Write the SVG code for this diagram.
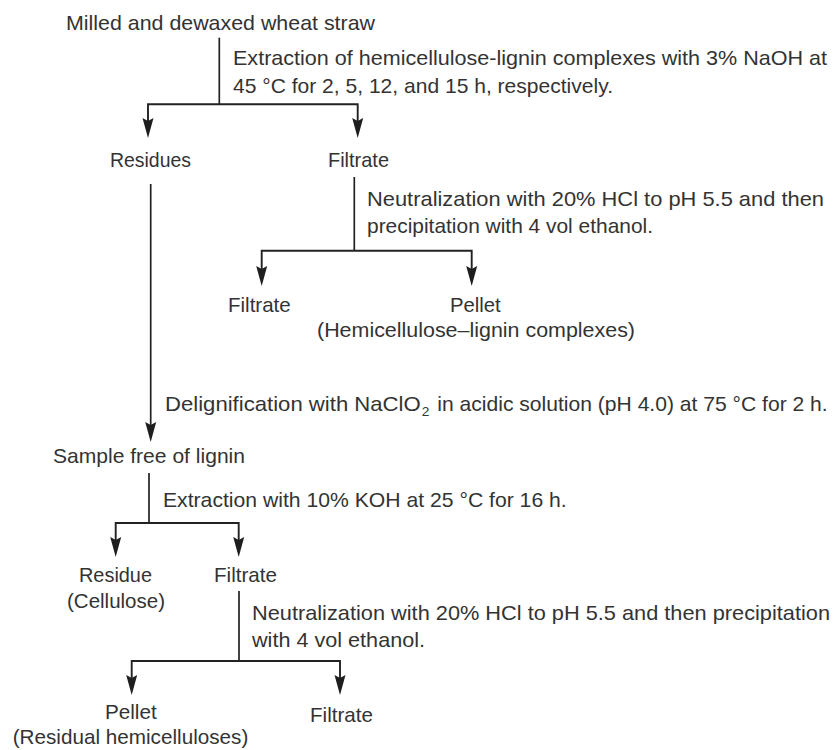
<svg xmlns="http://www.w3.org/2000/svg" width="835" height="750" viewBox="0 0 835 750">
  <style>
    text { font-family: "Liberation Sans", Arial, sans-serif; font-size: 21px; fill: #333333; }
    text.sub { font-size: 13px; }
    .ln { fill: none; stroke: #222; stroke-width: 1.7; }
    .br { fill: none; stroke: #222; stroke-width: 1.9; marker-start: url(#ah); marker-end: url(#ah); }
    .ar { fill: none; stroke: #222; stroke-width: 1.7; marker-end: url(#ah); }
  </style>
  <defs>
    <marker id="ah" viewBox="-21 -6 21 12" refX="-8" refY="0" markerWidth="21" markerHeight="12" markerUnits="userSpaceOnUse" orient="auto-start-reverse">
      <path d="M0,0 L-20,-5.5 L-17,0 L-20,5.5 Z" fill="#1e1e1e"/>
    </marker>
  </defs>
  <rect width="835" height="750" fill="#ffffff"/>

  <g id="connectors">
    <path class="ln" d="M219.3,37.7 V104.3"/>
    <path class="br" d="M148,130 V104.3 H357.7 V130"/>
    <path class="ln" d="M354.3,177 V250.7"/>
    <path class="br" d="M261.7,278 V250.7 H471.7 V278"/>
    <path class="ar" d="M150.7,184 V434"/>
    <path class="ln" d="M149,473 V523"/>
    <path class="br" d="M115.7,549 V523 H238.7 V549"/>
    <path class="ln" d="M239,591 V661"/>
    <path class="br" d="M131.7,687 V661 H340 V687"/>
  </g>

  <g id="step-labels">
    <g id="step1">
      <text x="233" y="65" textLength="594" lengthAdjust="spacingAndGlyphs">Extraction of hemicellulose-lignin complexes with 3% NaOH at</text>
      <text x="233" y="92.5" textLength="380" lengthAdjust="spacingAndGlyphs">45 °C for 2, 5, 12, and 15 h, respectively.</text>
    </g>
    <g id="step2">
      <text x="367" y="206" textLength="457" lengthAdjust="spacingAndGlyphs">Neutralization with 20% HCl to pH 5.5 and then</text>
      <text x="367" y="233" textLength="286" lengthAdjust="spacingAndGlyphs">precipitation with 4 vol ethanol.</text>
    </g>
    <g id="step3">
      <text x="165" y="411" textLength="255.7" lengthAdjust="spacingAndGlyphs">Delignification with NaClO</text>
      <text class="sub" x="421.7" y="416" textLength="7.6" lengthAdjust="spacingAndGlyphs">2</text>
      <text x="437.3" y="411" textLength="390.4" lengthAdjust="spacingAndGlyphs">in acidic solution (pH 4.0) at 75 °C for 2 h.</text>
    </g>
    <g id="step4">
      <text x="163" y="507" textLength="403.7" lengthAdjust="spacingAndGlyphs">Extraction with 10% KOH at 25 °C for 16 h.</text>
    </g>
    <g id="step5">
      <text x="252" y="619.5" textLength="578" lengthAdjust="spacingAndGlyphs">Neutralization with 20% HCl to pH 5.5 and then precipitation</text>
      <text x="252" y="647" textLength="173" lengthAdjust="spacingAndGlyphs">with 4 vol ethanol.</text>
    </g>
  </g>

  <g id="n-straw">
    <text x="66" y="30" textLength="309" lengthAdjust="spacingAndGlyphs">Milled and dewaxed wheat straw</text>
  </g>
  <g id="n-residues">
    <text x="110" y="167" textLength="81" lengthAdjust="spacingAndGlyphs">Residues</text>
  </g>
  <g id="n-filtrate1">
    <text x="328" y="167" textLength="61" lengthAdjust="spacingAndGlyphs">Filtrate</text>
  </g>
  <g id="n-filtrate2">
    <text x="228" y="312" textLength="62.7" lengthAdjust="spacingAndGlyphs">Filtrate</text>
  </g>
  <g id="n-pellet1">
    <text x="450" y="312" textLength="50.7" lengthAdjust="spacingAndGlyphs">Pellet</text>
    <text x="317" y="337" textLength="318" lengthAdjust="spacingAndGlyphs">(Hemicellulose–lignin complexes)</text>
  </g>
  <g id="n-sample">
    <text x="53" y="463" textLength="192" lengthAdjust="spacingAndGlyphs">Sample free of lignin</text>
  </g>
  <g id="n-residue2">
    <text x="79" y="582" textLength="73" lengthAdjust="spacingAndGlyphs">Residue</text>
    <text x="67" y="608" textLength="98" lengthAdjust="spacingAndGlyphs">(Cellulose)</text>
  </g>
  <g id="n-filtrate3">
    <text x="214" y="582" textLength="63" lengthAdjust="spacingAndGlyphs">Filtrate</text>
  </g>
  <g id="n-pellet2">
    <text x="105" y="719" textLength="51.7" lengthAdjust="spacingAndGlyphs">Pellet</text>
    <text x="12.7" y="744" textLength="235.6" lengthAdjust="spacingAndGlyphs">(Residual hemicelluloses)</text>
  </g>
  <g id="n-filtrate4">
    <text x="310" y="722" textLength="63" lengthAdjust="spacingAndGlyphs">Filtrate</text>
  </g>
</svg>
